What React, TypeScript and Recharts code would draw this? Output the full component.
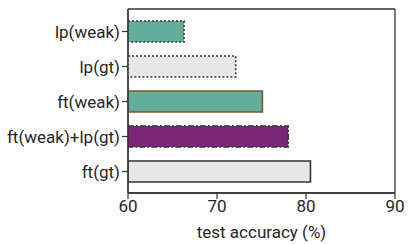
import React from "react";
import { BarChart, Bar, XAxis, YAxis, Cell, CartesianGrid } from "recharts";

const categories = ["lp(weak)", "lp(gt)", "ft(weak)", "ft(weak)+lp(gt)", "ft(gt)"];
const accuracy = [66.3, 72.1, 75.1, 78.0, 80.5];
const xTicks = [60, 70, 80, 90];
const fills = ["#63AE9B", "#E6E7E8", "#63AE9B", "#7C2677", "#E6E7E8"];
const strokes = ["#333333", "#333333", "#7A5530", "#333333", "#333333"];
const dashes = ["2 2", "2 2", "", "6 2 2 2", ""];

const data = categories.map((c, i) => ({ name: c, value: accuracy[i] }));

const FONT = "Roboto, 'Noto Sans', sans-serif";
const TEXT = "#262626";

export default function App() {
  return (
    <div style={{ position: "absolute", left: 0, top: 0, width: 416, height: 244, background: "#fff" }}>
      <BarChart
        width={416}
        height={244}
        data={data}
        layout="vertical"
        margin={{ top: 9, right: 21, bottom: 0, left: 0 }}
        barCategoryGap="20%"
      >
        <CartesianGrid
          horizontalPoints={[9, 193]}
          verticalPoints={[128, 395]}
          stroke="#333333"
          strokeWidth={1.3}
          fill="none"
        />
        <XAxis
          type="number"
          domain={[60, 90]}
          ticks={xTicks}
          allowDataOverflow
          height={51}
          tickSize={6}
          tickMargin={1}
          stroke="#333333"
          axisLine={{ stroke: "#333333", strokeWidth: 1.3 }}
          tickLine={{ stroke: "#333333", strokeWidth: 1.2 }}
          tick={{ fill: TEXT, fontSize: 17, fontFamily: FONT }}
          label={{ value: "test accuracy (%)", position: "insideBottom", offset: 6, fill: TEXT, fontSize: 17, fontFamily: FONT }}
        />
        <YAxis
          type="category"
          dataKey="name"
          width={128}
          padding={{ top: 5, bottom: 4 }}
          tickSize={6}
          tickMargin={2}
          axisLine={{ stroke: "#333333", strokeWidth: 1.3 }}
          tickLine={{ stroke: "#333333", strokeWidth: 1.2 }}
          tick={{ fill: TEXT, fontSize: 17, fontFamily: FONT }}
        />
        <Bar dataKey="value" isAnimationActive={false}>
          {data.map((d, i) => (
            <Cell
              key={d.name}
              fill={fills[i]}
              stroke={strokes[i]}
              strokeWidth={1.6}
              strokeDasharray={dashes[i] || undefined}
            />
          ))}
        </Bar>
      </BarChart>
    </div>
  );
}
